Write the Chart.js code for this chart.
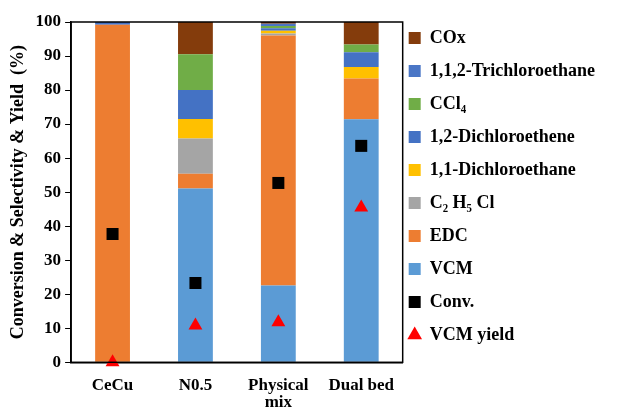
<!DOCTYPE html>
<html>
<head>
<meta charset="utf-8">
<script src="https://cdn.jsdelivr.net/npm/chart.js@4.4.1/dist/chart.umd.min.js"></script>
<style>
  html, body { margin: 0; padding: 0; background: #fff; }
  #wrap { width: 618px; height: 408px; }
</style>
</head>
<body>
<div id="wrap"><canvas id="chart" width="618" height="408"></canvas></div>
<script>
// categories and values
const categories = ['CeCu', 'N0.5', ['Physical', 'mix'], 'Dual bed'];
const vcm     = [0, 51.1, 22.6, 71.4];
const edc     = [99.2, 4.3, 73.4, 12.0];
const c2h5cl  = [0, 10.4, 0.6, 0];
const dca11   = [0, 5.7, 0.8, 3.4];
const dce12   = [0.8, 8.5, 0.8, 4.3];
const ccl4    = [0, 10.5, 0.6, 2.3];
const tce112  = [0, 0, 0.7, 0];
const cox     = [0, 9.5, 0.5, 6.6];
const conversion = [37.7, 23.3, 52.7, 63.6];
const vcmYield   = [0, 10.8, 11.8, 45.5];
const yTicks = [0, 10, 20, 30, 40, 50, 60, 70, 80, 90, 100];

const serif = "'Liberation Serif', 'Times New Roman', serif";

function bar(label, data, color) {
  return { type: 'bar', label: label, data: data, backgroundColor: color, borderWidth: 0,
           barPercentage: 0.42, categoryPercentage: 1 };
}

// box around the plot area, and nudge the legend a little up/left
const frame = {
  id: 'frame',
  afterLayout(chart) {
    chart.legend.left -= 9;
    chart.legend.right -= 9;
    chart.legend.top -= 8;
    chart.legend.bottom -= 8;
  },
  afterDatasetsDraw(chart) {
    const a = chart.chartArea, c = chart.ctx;
    c.save();
    c.strokeStyle = '#000';
    c.lineWidth = 1.5;
    c.strokeRect(a.left, a.top, a.right - a.left, a.bottom - a.top);
    c.restore();
  }
};

const ctx = document.getElementById('chart').getContext('2d');
new Chart(ctx, {
  type: 'bar',
  data: {
    labels: categories,
    datasets: [
      bar('VCM', vcm, '#5B9BD5'),
      bar('EDC', edc, '#ED7D31'),
      bar('C\u2082 H\u2085 Cl', c2h5cl, '#A5A5A5'),
      bar('1,1-Dichloroethane', dca11, '#FFC000'),
      bar('1,2-Dichloroethene', dce12, '#4472C4'),
      bar('CCl\u2084', ccl4, '#70AD47'),
      bar('1,1,2-Trichloroethane', tce112, '#4A76C6'),
      bar('COx', cox, '#843C0C'),
      { type: 'line', label: 'Conv.', data: conversion, stack: 'conv', order: -1, showLine: false, clip: false,
        pointStyle: 'rect', pointRadius: 8.5, pointBackgroundColor: '#000', pointBorderWidth: 0,
        backgroundColor: '#000', borderColor: '#000' },
      { type: 'line', label: 'VCM yield', data: vcmYield, stack: 'yield', order: -1, showLine: false, clip: false,
        pointStyle: 'triangle', pointRadius: 8, pointBackgroundColor: '#FF0000', pointBorderWidth: 0,
        backgroundColor: '#FF0000', borderColor: '#FF0000' }
    ]
  },
  options: {
    responsive: false,
    animation: false,
    layout: { padding: { top: 22, left: 4, right: 4, bottom: -18 } },
    plugins: {
      tooltip: { enabled: false },
      legend: {
        position: 'right',
        align: 'start',
        maxWidth: 216,
        labels: {
          font: { family: serif, size: 18, weight: 'bold' },
          color: '#000',
          boxWidth: 12,
          boxHeight: 12,
          padding: 15,
          usePointStyle: true,
          generateLabels(chart) {
            const items = Chart.defaults.plugins.legend.labels.generateLabels(chart);
            items.forEach(function (it) {
              const ds = chart.data.datasets[it.datasetIndex];
              it.lineWidth = 0;
              it.strokeStyle = 'rgba(0,0,0,0)';
              if (ds.type === 'line') {
                it.pointStyle = ds.pointStyle;
                it.fillStyle = ds.pointBackgroundColor;
              } else {
                it.pointStyle = 'rect';
              }
            });
            const bars = items.filter(it => chart.data.datasets[it.datasetIndex].type === 'bar').reverse();
            const pts = items.filter(it => chart.data.datasets[it.datasetIndex].type === 'line');
            return bars.concat(pts);
          }
        }
      }
    },
    scales: {
      x: {
        stacked: true,
        grid: { display: false, drawTicks: false },
        border: { display: true, color: '#000', width: 1.5 },
        ticks: { color: '#000', font: { family: serif, size: 17, weight: 'bold', lineHeight: 1.05 }, padding: 14 }
      },
      y: {
        stacked: true,
        min: 0,
        max: 100,
        afterBuildTicks(axis) { axis.ticks = yTicks.map(v => ({ value: v })); },
        grid: { display: true, drawOnChartArea: false, drawTicks: true, tickLength: 6, color: '#000', lineWidth: 1 },
        border: { display: true, color: '#000', width: 1.5 },
        ticks: { color: '#000', font: { family: serif, size: 17, weight: 'bold' }, padding: 4 },
        title: {
          display: true,
          text: 'Conversion & Selectivity & Yield  (%)',
          color: '#000',
          font: { family: serif, size: 18, weight: 'bold' },
          padding: { bottom: 2 }
        }
      }
    }
  },
  plugins: [frame]
});
</script>
</body>
</html>
